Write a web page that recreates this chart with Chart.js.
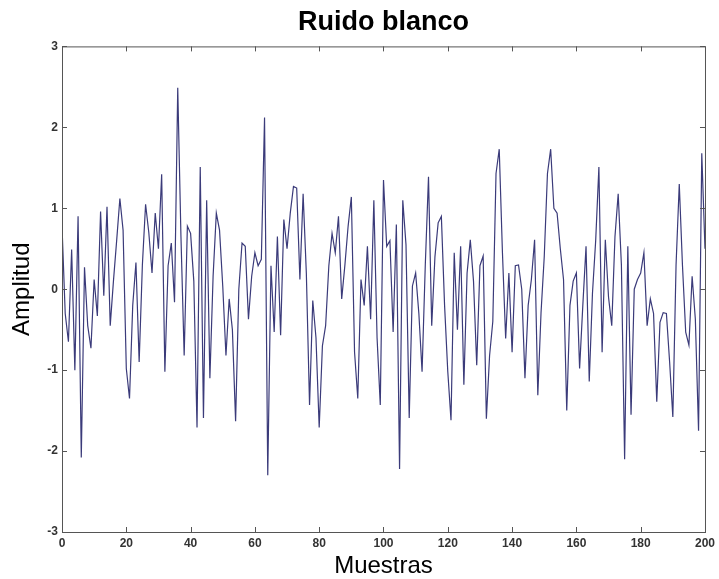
<!DOCTYPE html>
<html>
<head>
<meta charset="utf-8">
<script src="https://cdn.jsdelivr.net/npm/chart.js@4/dist/chart.umd.min.js"></script>
<style>
  html, body { margin: 0; padding: 0; background: #fff; }
  #wrap { width: 719px; height: 579px; }
</style>
</head>
<body>
<div id="wrap"><canvas id="myChart"></canvas></div>
<script>
// ruido blanco, 201 muestras
const amplitud = [
  0.78, -0.3, -0.65, 0.49, -1.0, 0.9, -2.08, 0.27, -0.45, -0.73,
  0.12, -0.33, 0.96, -0.08, 1.02, -0.45, 0.1, 0.6, 1.12, 0.73,
  -0.98, -1.35, -0.2, 0.33, -0.9, 0.3, 1.05, 0.7, 0.2, 0.94,
  0.5, 1.42, -1.02, 0.29, 0.57, -0.16, 2.49, 0.65, -0.82, 0.78,
  0.69, 0.1, -1.71, 1.51, -1.59, 1.1, -1.1, 0.16, 0.94, 0.73,
  0.04, -0.82, -0.12, -0.5, -1.63, 0.0, 0.57, 0.53, -0.37, 0.16,
  0.45, 0.29, 0.37, 2.12, -2.3, 0.29, -0.53, 0.65, -0.57, 0.86,
  0.5, 0.94, 1.27, 1.25, 0.12, 1.18, 0.2, -1.43, -0.14, -0.6,
  -1.71, -0.7, -0.45, 0.29, 0.69, 0.45, 0.9, -0.12, 0.3, 0.78,
  1.14, -0.78, -1.35, 0.12, -0.2, 0.53, -0.37, 1.1, -0.6, -1.43,
  1.35, 0.53, 0.6, -0.53, 0.8, -2.22, 1.1, 0.55, -1.59, 0.04,
  0.2, -0.3, -1.02, 0.3, 1.39, -0.45, 0.4, 0.82, 0.9, -0.2,
  -1.02, -1.62, 0.45, -0.5, 0.53, -1.18, 0.2, 0.61, 0.1, -0.94,
  0.29, 0.41, -1.6, -0.82, -0.4, 1.43, 1.73, 0.45, -0.61, 0.2,
  -0.78, 0.29, 0.3, 0.0, -1.1, -0.2, 0.12, 0.61, -1.31, -0.29,
  0.4, 1.43, 1.73, 1.0, 0.94, 0.5, 0.12, -1.5, -0.2, 0.1,
  0.2, -0.98, -0.2, 0.53, -1.14, -0.05, 0.6, 1.51, -0.78, 0.61,
  -0.1, -0.45, 0.65, 1.18, 0.3, -2.1, 0.53, -1.55, 0.0, 0.12,
  0.2, 0.45, -0.45, -0.12, -0.3, -1.39, -0.41, -0.29, -0.3, -0.9,
  -1.58, 0.3, 1.3, 0.29, -0.53, -0.69, 0.16, -0.37, -1.75, 1.68,
  0.5
];
const muestras = amplitud.map((v, i) => i);
const xTicks = [0, 20, 40, 60, 80, 100, 120, 140, 160, 180, 200];
const yTicks = [-3, -2, -1, 0, 1, 2, 3];

// marco tipo matlab con marcas hacia dentro
const boxPlugin = {
  id: 'box',
  afterDraw(chart) {
    const {ctx, chartArea: a, scales} = chart;
    ctx.save();
    ctx.strokeStyle = '#555';
    ctx.lineWidth = 1;
    ctx.strokeRect(a.left + 0.5, a.top + 0.5, a.right - a.left, a.bottom - a.top);
    ctx.beginPath();
    xTicks.forEach(t => {
      const x = Math.round(scales.x.getPixelForValue(t)) + 0.5;
      ctx.moveTo(x, a.bottom); ctx.lineTo(x, a.bottom - 5);
      ctx.moveTo(x, a.top); ctx.lineTo(x, a.top + 5);
    });
    yTicks.forEach(t => {
      const y = Math.round(scales.y.getPixelForValue(t)) + 0.5;
      ctx.moveTo(a.left, y); ctx.lineTo(a.left + 5, y);
      ctx.moveTo(a.right, y); ctx.lineTo(a.right - 5, y);
    });
    ctx.stroke();
    ctx.restore();
  }
};

new Chart(document.getElementById('myChart'), {
  type: 'line',
  data: {
    datasets: [{
      label: 'Ruido blanco',
      data: muestras.map((m, i) => ({x: m, y: amplitud[i]})),
      borderColor: '#3b3b7a',
      borderWidth: 1.2,
      pointRadius: 0,
      tension: 0,
      fill: false
    }]
  },
  options: {
    responsive: true,
    maintainAspectRatio: false,
    animation: false,
    layout: { padding: { top: 0, left: 0, right: 13, bottom: 0 } },
    plugins: {
      legend: { display: false },
      tooltip: { enabled: false },
      title: {
        display: true,
        fullSize: false,
        text: 'Ruido blanco',
        color: '#000',
        font: { family: 'Liberation Sans, Arial', size: 27, weight: 'bold' },
        padding: { top: 6, bottom: 8 }
      }
    },
    scales: {
      x: {
        type: 'linear',
        min: 0,
        max: 200,
        afterFit(s) { s.height = 47; },
        afterBuildTicks(s) { s.ticks = xTicks.map(v => ({value: v})); },
        grid: { display: false, drawTicks: false },
        border: { display: false },
        ticks: {
          padding: 4,
          maxRotation: 0,
          color: '#333',
          font: { family: 'Liberation Sans, Arial', size: 12, weight: 'bold' }
        },
        title: {
          display: true,
          text: 'Muestras',
          color: '#000',
          font: { family: 'Liberation Sans, Arial', size: 24, lineHeight: 1 },
          padding: { top: 0, bottom: 1 }
        }
      },
      y: {
        min: -3,
        max: 3,
        afterFit(s) { s.width = 62; },
        afterBuildTicks(s) { s.ticks = yTicks.map(v => ({value: v})); },
        grid: { display: false, drawTicks: false },
        border: { display: false },
        ticks: {
          padding: 4,
          color: '#333',
          font: { family: 'Liberation Sans, Arial', size: 12, weight: 'bold' }
        },
        title: {
          display: true,
          text: 'Amplitud',
          color: '#000',
          font: { family: 'Liberation Sans, Arial', size: 24, lineHeight: 1 },
          padding: { top: 10, bottom: 0 }
        }
      }
    }
  },
  plugins: [boxPlugin]
});
</script>
</body>
</html>
